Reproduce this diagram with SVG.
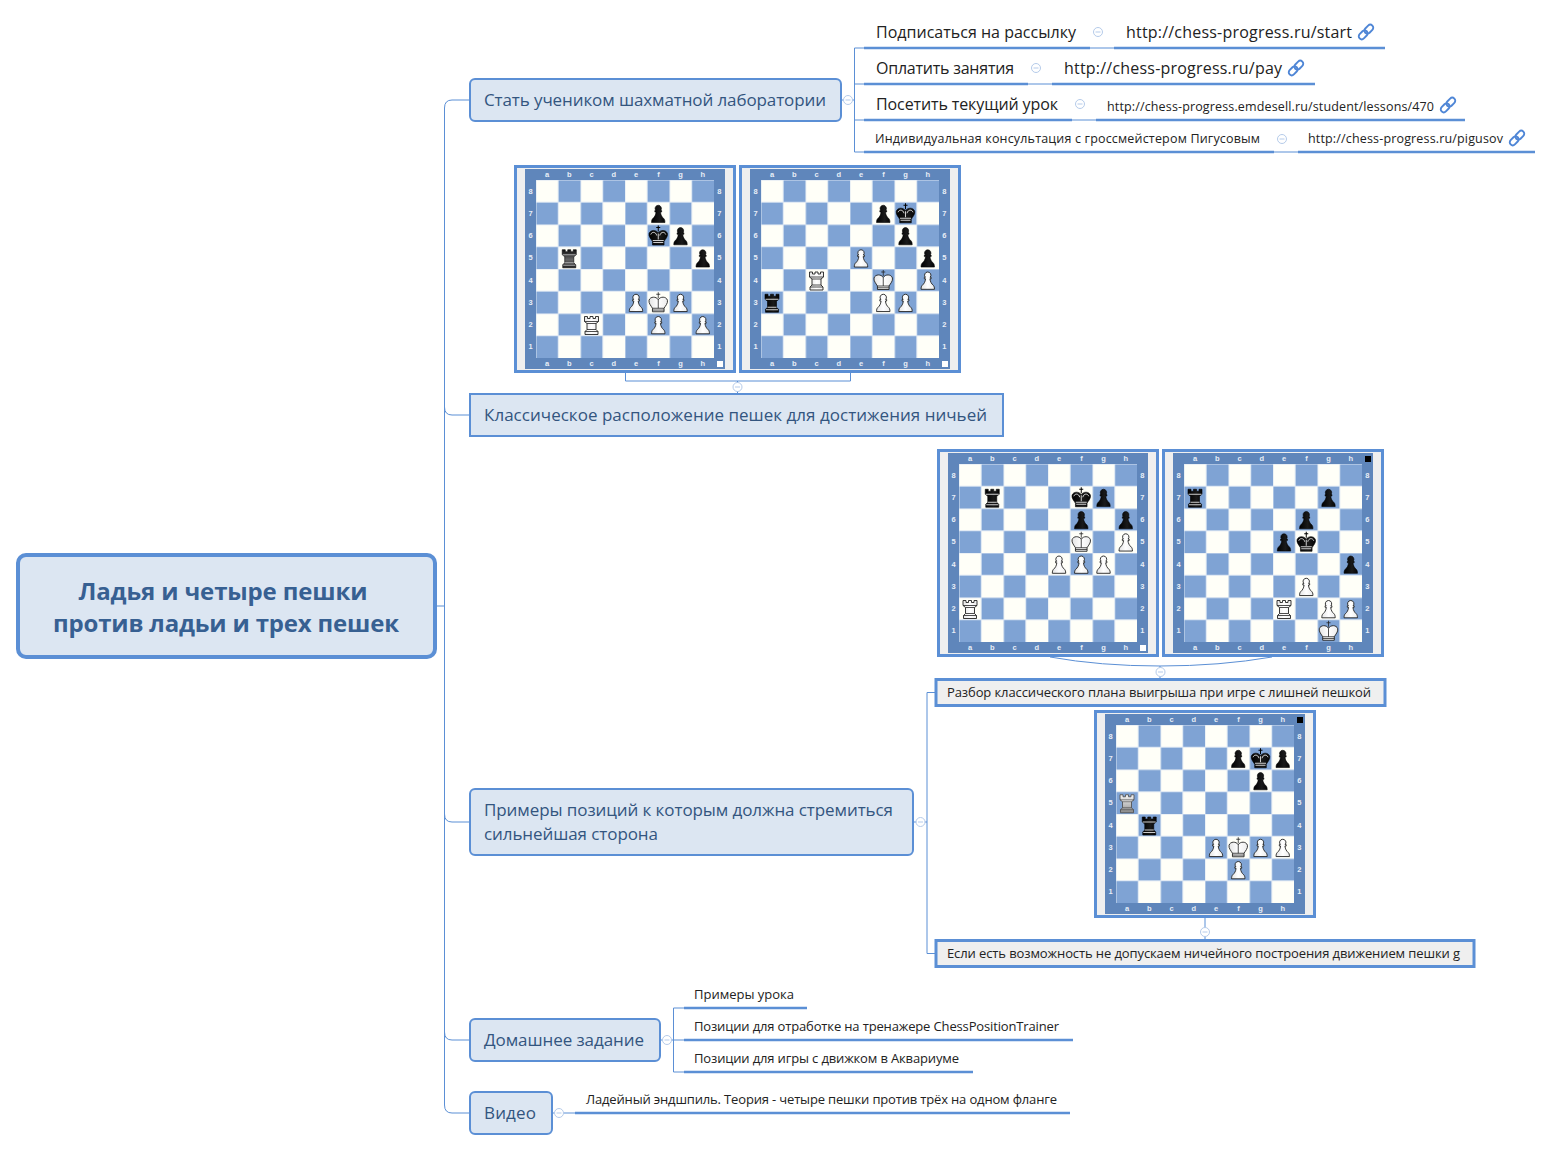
<svg xmlns="http://www.w3.org/2000/svg" width="1552" height="1151" viewBox="0 0 1552 1151">
<style>
text{font-family:"Open Sans","Noto Sans","Liberation Sans",sans-serif}
.root{fill:#dce6f2;stroke:#5b8fd5;stroke-width:4}
.main{fill:#dce6f2;stroke:#5b8fd5;stroke-width:2}
.box{fill:#efefef;stroke:#5b8fd5;stroke-width:3}
.rt{font-size:24px;font-weight:700;fill:#376092;text-anchor:middle}
.mt{font-size:17px;fill:#33557f}
.t16{font-size:16px;fill:#222}
.t13{font-size:13px;fill:#222}
.t12{font-size:12.5px;fill:#222}
.ul{stroke:#5b8fd5;stroke-width:2.5;fill:none}
.cn{stroke:#5b8fd5;stroke-width:1;fill:none}
.cc{fill:#fff;stroke:#b5cbea;stroke-width:1}
.cm{stroke:#b5cbea;stroke-width:1;fill:none}
.lbl{font-size:7.5px;font-weight:700;fill:#e8eef7;text-anchor:middle;font-family:"Liberation Sans",sans-serif}
.bw{fill:url(#gw);stroke:#222;stroke-width:.9}
.bb{fill:url(#gb);stroke:#000;stroke-width:.6}
.bg{fill:url(#gg);stroke:#111;stroke-width:.7}
.bs{fill:url(#gs);stroke:#555;stroke-width:.9}
.dw{fill:none;stroke:#222;stroke-width:.8}
.db{fill:none;stroke:#fff;stroke-width:.8}
.lk{fill:none;stroke:#4f86d6;stroke-width:1.900}
</style>
<defs>
<linearGradient id="gw" x1="0" y1="0" x2="1" y2="0"><stop offset="0" stop-color="#e4e4e4"/><stop offset=".5" stop-color="#fff"/><stop offset="1" stop-color="#ececec"/></linearGradient>
<linearGradient id="gb" x1="0" y1="0" x2="1" y2="0"><stop offset="0" stop-color="#000"/><stop offset=".6" stop-color="#1a1a1a"/><stop offset="1" stop-color="#050505"/></linearGradient>
<linearGradient id="gg" x1="0" y1="0" x2="0" y2="1"><stop offset="0" stop-color="#111"/><stop offset=".55" stop-color="#666"/><stop offset="1" stop-color="#222"/></linearGradient>
<linearGradient id="gs" x1="0" y1="0" x2="0" y2="1"><stop offset="0" stop-color="#f5f5f5"/><stop offset=".6" stop-color="#bbb"/><stop offset="1" stop-color="#888"/></linearGradient>
<pattern id="chk" width="44.5" height="44.5" patternUnits="userSpaceOnUse" x="22" y="15">
<rect width="44.5" height="44.5" fill="#fffff8"/>
<rect x="22.25" width="22.25" height="22.25" fill="#7fa3d4"/>
<rect y="22.25" width="22.25" height="22.25" fill="#7fa3d4"/>
<path d="M0 0H44.5M0 22.25H44.5M0 0V44.5M22.25 0V44.5" stroke="#d9e4f2" stroke-width="1"/>
</pattern>
<g id="board">
<rect x="1.5" y="1.5" width="219" height="205" class="box"/>
<rect x="11" y="4" width="200" height="200" fill="#5f86bb"/>
<rect x="22" y="15" width="178" height="178" fill="url(#chk)"/>
<text class="lbl" y="12" x="33.1 55.4 77.6 99.9 122.1 144.4 166.6 188.9">abcdefgh</text>
<text class="lbl" y="201" x="33.1 55.4 77.6 99.9 122.1 144.4 166.6 188.9">abcdefgh</text>
<text class="lbl" x="16.7 16.7 16.7 16.7 16.7 16.7 16.7 16.7" y="28.5 50.7 73 95.2 117.5 139.7 162 184.2">87654321</text>
<text class="lbl" x="205.3 205.3 205.3 205.3 205.3 205.3 205.3 205.3" y="28.5 50.7 73 95.2 117.5 139.7 162 184.2">87654321</text>
</g>
<path id="pawn" d="M11 3a3.2 3.2 0 0 1 2.4 5.3h1v1.500h-1.200c.3 3 1.500 5 3.300 6.500.8.7 1.200 2 1.200 4H4.300c0-2 .4-3.300 1.200-4 1.800-1.500 3-3.500 3.300-6.500H7.600V8.300h1A3.200 3.200 0 0 1 11 3z"/>
<path id="kingp" d="M11 8.500C9 5 3 5 1.800 9c-.6 3 2 5.500 3.400 8v3.500h11.600V17c1.400-2.500 4-5 3.400-8C19 5 13 5 11 8.500z"/>
<path id="rookp" d="M4 3h3v2h2.500V3h3v2H15V3h3v5l-2.500 2v6l2 2v3h-13v-3l2-2v-6L4 8z"/>
<g id="wp"><use href="#pawn" class="bw"/></g>
<g id="bp"><use href="#pawn" class="bb"/></g>
<g id="wk"><use href="#kingp" class="bw"/><path class="dw" d="M11 1v6M9 3h4M5.200 17h11.600M5.200 18.800h11.600M11 8.500V17"/></g>
<g id="bk"><use href="#kingp" class="bb"/><path d="M11 1v6M9 3h4" stroke="#000" stroke-width="1" fill="none"/><path class="db" d="M5.500 16h11M6 18h10M11 9v6M3.500 10c1-3 5-3 6 1M18.500 10c-1-3-5-3-6 1"/></g>
<g id="wr"><use href="#rookp" class="bw"/><path class="dw" d="M4 8h14M6.500 10h9M6.500 16h9M4.500 18h13"/></g>
<g id="wr2"><use href="#rookp" class="bs"/><path class="dw" d="M4 8h14M6.500 10h9M6.500 16h9M4.500 18h13" stroke-opacity=".6"/></g>
<g id="br"><use href="#rookp" class="bb"/><path class="db" d="M4.500 8h13M6.500 16h9M5 18.500h12"/></g>
<g id="br2"><use href="#rookp" class="bg"/><path class="db" d="M4.500 8h13M6.500 16h9M5 18.500h12" stroke-opacity=".7"/></g>
<g id="col"><circle class="cc" r="4.500"/><path class="cm" d="M-2.500 0h5"/></g>
<g id="link"><g transform="rotate(-45)"><rect x="-9" y="-3" width="10" height="6" rx="3" class="lk"/><rect x="-1" y="-3" width="10" height="6" rx="3" class="lk"/></g></g>
</defs>
<rect width="1552" height="1151" fill="#fff"/>
<g id="connectors">
<path class="cn" d="M436 606H444.500M470 100H452Q444.500 100 444.500 108V1105Q444.500 1113 452 1113H470M444.500 407Q444.500 415 452 415H470M444.500 814Q444.500 822 452 822H470M444.500 1032Q444.500 1040 452 1040H470"/>
<path class="cn" d="M841 100H854.500M854.500 48V152M854.500 48H864M854.500 84H864M854.500 120H864M854.500 152H864M1090 48H1114M1028 84H1052M1072 120H1096M1274 152H1298"/>
<path class="cn" d="M625.500 373V381H850.500V373M737.500 381V394"/>
<path class="cn" d="M1050 657Q1100 666 1160 666Q1220 666 1272 657M1160 666V679"/>
<path class="cn" d="M913 822H927M927 692.500V953.500M927 692.500H936M927 953.500H936M1205 918V940"/>
<path class="cn" d="M660 1040H684M673.500 1008V1072M673.500 1008H684M673.500 1072H684M552 1113H575"/>
<g class="ul">
<path d="M864 48H1090M1114 48H1385M864 84H1028M1052 84H1315M864 120H1072M1096 120H1465M864 152H1274M1298 152H1535"/>
<path d="M684 1008H807M684 1040H1073M684 1072H973M575 1113H1070"/>
</g>
</g>
<g id="root"><rect class="root" x="18" y="555" width="417" height="102" rx="8"/><text class="rt" x="223" y="600" textLength="289">Ладья и четыре пешки</text><text class="rt" x="226" y="632" textLength="346">против ладьи и трех пешек</text></g>
<g id="n1"><rect class="main" x="470" y="79" width="371" height="42" rx="5"/><text class="mt" x="484" y="106" textLength="342">Стать учеником шахматной лаборатории</text><use href="#col" x="848" y="100"/></g>
<g id="n1a"><text class="t16" x="876" y="38" textLength="200">Подписаться на рассылку</text><use href="#col" x="1098" y="32"/></g>
<g id="n1a1"><text class="t16" x="1126" y="38" textLength="226">http://chess-progress.ru/start</text><use href="#link" x="1366" y="32"/></g>
<g id="n1b"><text class="t16" x="876" y="74" textLength="138">Оплатить занятия</text><use href="#col" x="1036" y="68"/></g>
<g id="n1b1"><text class="t16" x="1064" y="74" textLength="218">http://chess-progress.ru/pay</text><use href="#link" x="1296" y="68"/></g>
<g id="n1c"><text class="t16" x="876" y="110" textLength="182">Посетить текущий урок</text><use href="#col" x="1080" y="104"/></g>
<g id="n1c1"><text class="t12" x="1107" y="111" textLength="327">http://chess-progress.emdesell.ru/student/lessons/470</text><use href="#link" x="1448" y="105"/></g>
<g id="n1d"><text class="t12" x="875" y="143" textLength="385">Индивидуальная консультация с гроссмейстером Пигусовым</text><use href="#col" x="1282" y="139"/></g>
<g id="n1d1"><text class="t12" x="1308" y="143" textLength="195">http://chess-progress.ru/pigusov</text><use href="#link" x="1517" y="138"/></g>
<g id="b1" transform="translate(514 165)"><use href="#board"/><rect x="203" y="196" width="6" height="6" fill="#fff"/>
<use href="#bp" x="133.250" y="37.250"/><use href="#bk" x="133.250" y="59.500"/><use href="#bp" x="155.500" y="59.500"/><use href="#br2" x="44.250" y="81.750"/><use href="#bp" x="177.750" y="81.750"/>
<use href="#wp" x="111" y="126.250"/><use href="#wk" x="133.250" y="126.250"/><use href="#wp" x="155.500" y="126.250"/><use href="#wr" x="66.500" y="148.500"/><use href="#wp" x="133.250" y="148.500"/><use href="#wp" x="177.750" y="148.500"/></g>
<g id="b2" transform="translate(739 165)"><use href="#board"/><rect x="203" y="196" width="6" height="6" fill="#fff"/>
<use href="#bp" x="133.250" y="37.250"/><use href="#bk" x="155.500" y="37.250"/><use href="#bp" x="155.500" y="59.500"/><use href="#bp" x="177.750" y="81.750"/><use href="#br" x="22" y="126.250"/>
<use href="#wp" x="111" y="81.750"/><use href="#wr" x="66.500" y="104"/><use href="#wk" x="133.250" y="104"/><use href="#wp" x="177.750" y="104"/><use href="#wp" x="133.250" y="126.250"/><use href="#wp" x="155.500" y="126.250"/></g>
<use href="#col" x="737.500" y="387"/>
<g id="n2"><rect class="main" x="470" y="394" width="533" height="42"/><text class="mt" x="484" y="421" textLength="503">Классическое расположение пешек для достижения ничьей</text></g>
<g id="b3" transform="translate(937 449)"><use href="#board"/><rect x="203" y="196" width="6" height="6" fill="#fff"/>
<use href="#br" x="44.250" y="37.250"/><use href="#bk" x="133.250" y="37.250"/><use href="#bp" x="155.500" y="37.250"/><use href="#bp" x="133.250" y="59.500"/><use href="#bp" x="177.750" y="59.500"/>
<use href="#wk" x="133.250" y="81.750"/><use href="#wp" x="177.750" y="81.750"/><use href="#wp" x="111" y="104"/><use href="#wp" x="133.250" y="104"/><use href="#wp" x="155.500" y="104"/><use href="#wr" x="22" y="148.500"/></g>
<g id="b4" transform="translate(1162 449)"><use href="#board"/><rect x="203" y="7" width="6" height="6" fill="#000"/>
<use href="#br" x="22" y="37.250"/><use href="#bp" x="155.500" y="37.250"/><use href="#bp" x="133.250" y="59.500"/><use href="#bp" x="111" y="81.750"/><use href="#bk" x="133.250" y="81.750"/><use href="#bp" x="177.750" y="104"/>
<use href="#wp" x="133.250" y="126.250"/><use href="#wr" x="111" y="148.500"/><use href="#wp" x="155.500" y="148.500"/><use href="#wp" x="177.750" y="148.500"/><use href="#wk" x="155.500" y="170.750"/></g>
<use href="#col" x="1160.500" y="672"/>
<g id="n3a"><rect class="box" x="936" y="679.500" width="449" height="26"/><text class="t13" x="947" y="697" textLength="424">Разбор классического плана выигрыша при игре с лишней пешкой</text></g>
<g id="b5" transform="translate(1094 710)"><use href="#board"/><rect x="203" y="7" width="6" height="6" fill="#000"/>
<use href="#bp" x="133.250" y="37.250"/><use href="#bk" x="155.500" y="37.250"/><use href="#bp" x="177.750" y="37.250"/><use href="#bp" x="155.500" y="59.500"/><use href="#br" x="44.250" y="104"/>
<use href="#wr2" x="22" y="81.750"/><use href="#wp" x="111" y="126.250"/><use href="#wk" x="133.250" y="126.250"/><use href="#wp" x="155.500" y="126.250"/><use href="#wp" x="177.750" y="126.250"/><use href="#wp" x="133.250" y="148.500"/></g>
<use href="#col" x="1205" y="932"/>
<g id="n3b"><rect class="box" x="936" y="940.500" width="538" height="26"/><text class="t13" x="947" y="958" textLength="513">Если есть возможность не допускаем ничейного построения движением пешки g</text></g>
<g id="n3"><rect class="main" x="470" y="789" width="443" height="66" rx="5"/><text class="mt" x="484" y="816" textLength="409">Примеры позиций к которым должна стремиться</text><text class="mt" x="484" y="840" textLength="174">сильнейшая сторона</text><use href="#col" x="920.500" y="822"/></g>
<g id="n4"><rect class="main" x="470" y="1019" width="190" height="42" rx="5"/><text class="mt" x="484" y="1046" textLength="160">Домашнее задание</text><use href="#col" x="667" y="1040"/></g>
<g id="n4a"><text class="t13" x="694" y="999" textLength="100">Примеры урока</text></g>
<g id="n4b"><text class="t13" x="694" y="1031" textLength="365">Позиции для отработке на тренажере ChessPositionTrainer</text></g>
<g id="n4c"><text class="t13" x="694" y="1063" textLength="265">Позиции для игры с движком в Аквариуме</text></g>
<g id="n5"><rect class="main" x="470" y="1092" width="82" height="42" rx="5"/><text class="mt" x="484" y="1119" textLength="52">Видео</text><use href="#col" x="559" y="1113"/></g>
<g id="n5a"><text class="t13" x="586" y="1104" textLength="471">Ладейный эндшпиль. Теория - четыре пешки против трёх на одном фланге</text></g>
</svg>
